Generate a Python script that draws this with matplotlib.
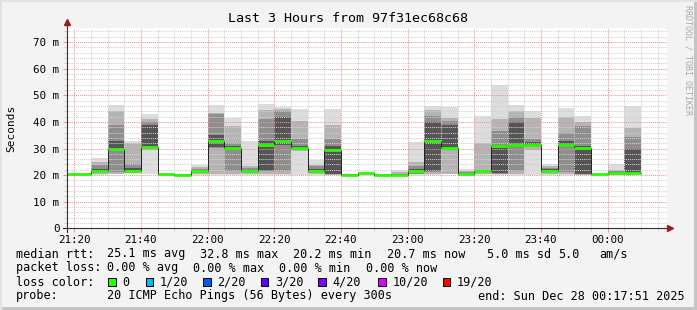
import numpy as np
import matplotlib
matplotlib.use("Agg")
import matplotlib.pyplot as plt
from matplotlib.patches import Rectangle
from matplotlib.ticker import MultipleLocator, FixedLocator, FuncFormatter

W, H = 697, 310
MONO = "DejaVu Sans Mono"
plt.rcParams["font.family"] = [MONO]

# 5 minute slots (start time), values in ms
slot_start = ["21:15", "21:20", "21:25", "21:30", "21:35", "21:40", "21:45", "21:50",
              "21:55", "22:00", "22:05", "22:10", "22:15", "22:20", "22:25", "22:30",
              "22:35", "22:40", "22:45", "22:50", "22:55", "23:00", "23:05", "23:10",
              "23:15", "23:20", "23:25", "23:30", "23:35", "23:40", "23:45", "23:50",
              "23:55", "00:00", "00:05"]

# smoke: sorted pings grouped into nested bands (outer -> inner)
rtt_min = [20.1, 20.1, 19.9, 20.3, 20.4, 20.5, 20.2, 19.9, 19.9, 20.0, 19.9, 20.2,
           19.9, 20.0, 20.0, 20.0, 20.0, 19.5, 20.2, 19.9, 20.0, 20.0, 20.0, 20.3,
           20.0, 20.2, 20.0, 20.0, 20.2, 20.0, 20.0, 20.0, 20.1, 20.0, 20.0]
rtt_lo2 = [20.2, 20.2, 20.5, 20.5, 20.8, 29.5, 20.3, 20.0, 20.5, 20.5, 20.5, 20.6,
           20.5, 20.5, 29.0, 20.4, 20.2, 19.8, 20.4, 20.0, 20.1, 20.3, 20.5, 20.5,
           20.1, 20.5, 20.3, 20.5, 29.5, 20.5, 20.5, 20.2, 20.2, 20.2, 20.3]
rtt_lo3 = [20.3, 20.3, 21.0, 21.0, 21.0, 29.9, 20.4, 20.1, 21.0, 30.2, 21.5, 21.0,
           21.4, 21.4, 29.6, 20.8, 20.4, 20.0, 20.5, 20.1, 20.1, 20.6, 21.0, 29.5,
           20.2, 20.8, 20.6, 21.4, 30.5, 20.8, 21.0, 20.4, 20.3, 20.4, 20.6]
rtt_lo4 = [20.3, 20.3, 21.3, 29.5, 21.2, 30.2, 20.4, 20.1, 21.2, 30.4, 29.5, 21.2,
           21.5, 31.5, 29.9, 21.2, 20.6, 20.1, 20.6, 20.1, 20.2, 21.0, 21.5, 30.0,
           20.3, 21.1, 20.9, 30.5, 31.0, 21.2, 30.5, 20.6, 20.3, 20.5, 20.8]
rtt_median = [20.4, 20.4, 21.7, 30.0, 21.4, 30.5, 20.5, 20.2, 21.4, 32.8, 30.2, 21.4,
              31.2, 32.8, 30.2, 21.7, 29.6, 20.2, 20.7, 20.2, 20.2, 21.7, 32.8, 30.2,
              20.4, 21.4, 30.9, 31.3, 31.3, 21.7, 31.3, 30.2, 20.4, 20.7, 20.9]
rtt_hi4 = [20.4, 20.4, 22.3, 33.0, 22.5, 39.0, 20.5, 20.2, 21.8, 35.0, 31.0, 22.0,
           32.8, 42.0, 31.0, 22.3, 31.0, 20.3, 20.8, 20.2, 20.3, 22.3, 40.0, 39.0,
           20.6, 21.8, 31.5, 40.0, 32.5, 22.2, 33.0, 31.0, 20.4, 21.0, 30.0]
rtt_hi3 = [20.5, 20.5, 23.7, 39.0, 24.0, 40.0, 20.6, 20.3, 22.4, 42.8, 32.0, 22.8,
           41.0, 44.0, 33.4, 23.3, 33.5, 20.4, 20.9, 20.3, 20.5, 23.3, 42.2, 40.5,
           21.0, 22.1, 36.5, 42.0, 33.4, 22.8, 36.0, 38.5, 20.5, 21.5, 34.5]
rtt_hi2 = [20.5, 20.5, 25.0, 44.0, 32.0, 41.0, 20.6, 20.3, 23.0, 43.5, 38.5, 23.5,
           44.5, 45.0, 40.3, 23.8, 39.0, 20.5, 21.0, 20.4, 21.0, 25.0, 44.5, 41.5,
           21.5, 32.0, 41.0, 44.0, 41.6, 23.3, 42.0, 40.0, 20.5, 22.1, 37.8]
rtt_max = [20.6, 20.7, 26.4, 46.2, 33.0, 43.1, 20.8, 20.5, 23.7, 46.2, 41.6, 32.8,
           46.6, 45.6, 44.7, 25.8, 44.7, 20.6, 21.1, 20.5, 22.0, 32.4, 46.0, 45.6,
           22.3, 42.2, 53.8, 46.2, 44.1, 24.0, 45.4, 42.2, 20.6, 24.0, 46.0]

tick_labels = ["21:20", "21:40", "22:00", "22:20", "22:40", "23:00", "23:20", "23:40", "00:00"]
view_start, view_end = "21:17:51", "00:17:51"

loss_labels = ["0", "1/20", "2/20", "3/20", "4/20", "10/20", "19/20"]
loss_colors = ["#26ff00", "#00b8ff", "#0059ff", "#5e00ff", "#7e00ff", "#dd00ff", "#ff0000"]


def minutes(s):
    parts = [int(p) for p in s.split(":")]
    h, m = parts[0], parts[1]
    sec = parts[2] if len(parts) > 2 else 0
    if h < 12:
        h += 24
    return (h - 21) * 60 + m + sec / 60


def fx(px):
    return px / W


def fy(py):
    return 1 - py / H


fig = plt.figure(figsize=(W / 100, H / 100), dpi=100, facecolor="#f3f3f3")
ax = fig.add_axes([fx(67), fy(228.3), 600 / W, 200 / H])
ax.set_facecolor("white")

x = np.array([minutes(s) for s in slot_start])
bands = [(rtt_min, rtt_max, "#dddddd"),
         (rtt_lo2, rtt_hi2, "#b4b4b4"),
         (rtt_lo3, rtt_hi3, "#8e8e8e"),
         (rtt_lo4, rtt_hi4, "#555555")]
for lo, hi, c in bands:
    lo, hi = np.array(lo), np.array(hi)
    ax.bar(x, hi - lo, bottom=lo, width=5, align="edge", color=c,
           linewidth=0, antialiased=False, zorder=1)

med = np.array(rtt_median)
edges = np.append(x, x[-1] + 5)
ax.step(edges, np.append(med, med[-1]), where="post", color="#202020", lw=0.7, zorder=3)
ax.hlines(med, x, x + 5, color=loss_colors[0], lw=2.0, zorder=4)

ax.set_xlim(minutes(view_start), minutes(view_end))
ax.set_ylim(0, 75.2)

ax.xaxis.set_major_locator(FixedLocator([minutes(t) for t in tick_labels]))
ax.set_xticklabels(tick_labels)
ax.xaxis.set_minor_locator(MultipleLocator(5))
ax.yaxis.set_major_locator(MultipleLocator(10))
ax.yaxis.set_minor_locator(MultipleLocator(2))
ax.yaxis.set_major_formatter(FuncFormatter(lambda v, p: "0" if v == 0 else f"{v:.0f} m"))

ax.set_axisbelow(False)
ax.grid(which="major", color="#f09090", ls=(0, (1, 1)), lw=0.75)
ax.grid(which="minor", color="#d0d0d0", ls=(0, (1, 1)), lw=0.75)
ax.tick_params(which="major", length=3, width=0.75, color="#f09090", labelsize=7.8)
ax.tick_params(which="minor", length=2, width=0.75, color="#d0d0d0")
ax.tick_params(axis="y", pad=2.5)
ax.tick_params(axis="x", pad=2.0)
for s in ax.spines.values():
    s.set_visible(False)

# axis lines with arrows
ax.plot([0, 0], [-0.02, 1.03], transform=ax.transAxes, color="#303030", lw=0.8,
        clip_on=False, zorder=5)
ax.plot([-0.006, 1.005], [0, 0], transform=ax.transAxes, color="#303030", lw=0.8,
        clip_on=False, zorder=5)
ax.plot([0], [1.03], marker="^", ms=4.5, color="#9b1c1c", transform=ax.transAxes,
        clip_on=False, zorder=6)
ax.plot([1.005], [0], marker=">", ms=4.5, color="#9b1c1c", transform=ax.transAxes,
        clip_on=False, zorder=6)

fig.text(fx(348.5), fy(19), "Last 3 Hours from 97f31ec68c68", ha="center", va="center",
         fontsize=9.6)
fig.text(fx(11), fy(128), "Seconds", rotation=90, ha="center", va="center", fontsize=8)
fig.text(fx(688), fy(5), "RRDTOOL / TOBI OETIKER", rotation=270, ha="center", va="top",
         fontsize=6, color="#a8a8a8")

# legend block
legend_rows = [
    (254, [(16, "median rtt:"), (107.3, "25.1 ms avg"), (200, "32.8 ms max"),
           (293.3, "20.2 ms min"), (386.7, "20.7 ms now"), (486.7, "5.0 ms sd"),
           (558.3, "5.0"), (599.3, "am/s")]),
    (268, [(16, "packet loss:"), (107.3, "0.00 % avg"), (193.3, "0.00 % max"),
           (279.3, "0.00 % min"), (365.7, "0.00 % now")]),
    (282, [(16, "loss color:")]),
    (296, [(16, "probe:"), (107.3, "20 ICMP Echo Pings (56 Bytes) every 300s"),
           (478.3, "end: Sun Dec 28 00:17:51 2025")]),
]
for y, items in legend_rows:
    for xp, txt in items:
        fig.text(fx(xp), fy(y), txt, ha="left", va="center", fontsize=8.5)

sq_x = [108.3, 145.7, 203.3, 260.7, 318.3, 378.3, 442.7]
for xp, lab, c in zip(sq_x, loss_labels, loss_colors):
    fig.add_artist(Rectangle((fx(xp), fy(286)), 7.5 / W, 7.7 / H, transform=fig.transFigure,
                             facecolor=c, edgecolor="black", lw=0.7))
    fig.text(fx(xp + 14), fy(282), lab, ha="left", va="center", fontsize=8.5)

# frame
fig.add_artist(Rectangle((fx(694), 0), 3 / W, 1, transform=fig.transFigure,
                         facecolor="#c4c4c4", lw=0))
fig.add_artist(Rectangle((0, 0), 1, 3 / H, transform=fig.transFigure,
                         facecolor="#c4c4c4", lw=0))
fig.add_artist(Rectangle((0, fy(2)), 1, 2 / H, transform=fig.transFigure,
                         facecolor="#e2e2e2", lw=0))
fig.add_artist(Rectangle((0, 0), 2 / W, 1, transform=fig.transFigure,
                         facecolor="#e2e2e2", lw=0))

fig.savefig("out.png", dpi=100, facecolor=fig.get_facecolor())
